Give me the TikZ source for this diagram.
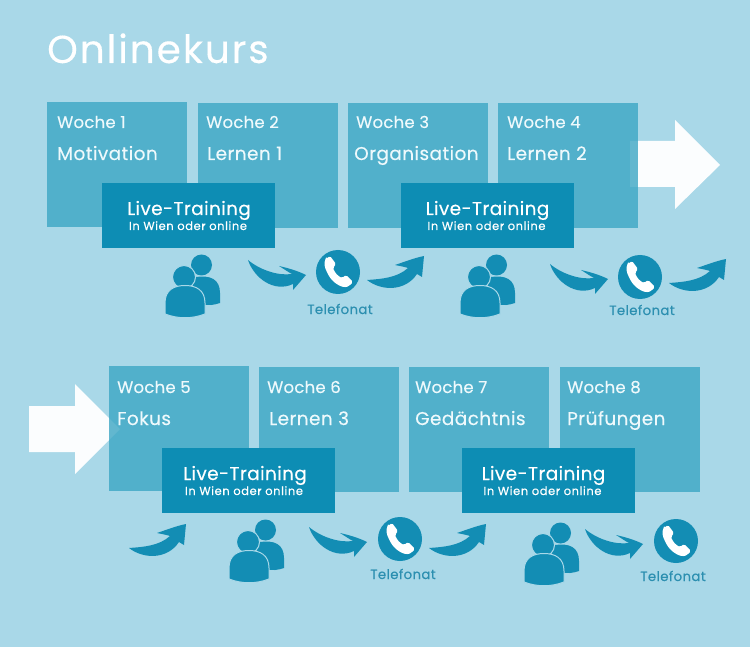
\documentclass[tikz,border=0pt]{standalone}
\usepackage{fontspec}
\setmainfont{Poppins}
\definecolor{bgc}{RGB}{169,216,232}
\definecolor{boxc}{RGB}{60,166,196}
\definecolor{livec}{RGB}{13,141,180}
\definecolor{iconc}{RGB}{19,141,180}
\definecolor{telc}{RGB}{44,143,176}
\definecolor{txtc}{RGB}{238,249,252}
\tikzset{
  week/.style={fill=boxc,fill opacity=.8,draw=none,minimum width=140pt,minimum height=125pt,anchor=north west,inner sep=0pt},
  live/.style={fill=livec,minimum width=173pt,minimum height=65pt,anchor=north west,inner sep=0pt},
  wk/.style={text=txtc,font=\fontsize{16.5}{16}\selectfont\addfontfeatures{FakeBold=0.25,LetterSpace=1.5},anchor=base west,inner sep=0pt},
  tp/.style={text=txtc,font=\fontsize{18.5}{18}\selectfont\addfontfeatures{FakeBold=0.25,LetterSpace=2.2},anchor=base west,inner sep=0pt},
  lt/.style={text=white,font=\fontsize{18.5}{18}\selectfont\addfontfeatures{FakeBold=0.25,LetterSpace=2},anchor=base,inner sep=0pt},
  ls/.style={text=white,font=\fontsize{11.5}{11}\selectfont\addfontfeatures{FakeBold=0.4,LetterSpace=5},anchor=base,inner sep=0pt},
  tel/.style={text=telc,font=\fontsize{13.3}{13}\selectfont\addfontfeatures{FakeBold=0.3,LetterSpace=3},anchor=base,inner sep=0pt},
  phonec/.style={circle,fill=iconc,minimum size=44pt,inner sep=0pt},
  bigarrow/.style={fill=white,fill opacity=.96,draw=none},
  swoopdown/.pic={\fill[iconc] (0,0) .. controls (6,18) and (26,33) .. (45,24) -- (45,30) -- (58,15) .. controls (50,11) and (40,8) .. (31,6) .. controls (36,9) and (40,12) .. (44,14) .. controls (30,16) and (12,10) .. (0,0) -- cycle;},
  swoopup/.pic={\fill[iconc] (0,0) .. controls (14,11) and (38,12) .. (50,-6) -- (55,-3) -- (57,-24) .. controls (47,-22) and (37,-18) .. (28,-15) .. controls (33,-14) and (38,-13) .. (41,-12) .. controls (30,-2) and (14,-1) .. (0,0) -- cycle;},
  handset/.pic={\fill[white,rounded corners=1.5pt] (-12,-13) -- (-8,-16) -- (-2,-8) -- (-5,-4) .. controls (-3,1) and (0,4) .. (4,6) -- (8,3) -- (15,10) -- (11,14) .. controls (4,17) and (-6,10) .. (-10,2) .. controls (-14,-5) and (-14,-10) .. (-12,-13) -- cycle;},
  people/.pic={
    \fill[iconc] (17.5,-12) circle (10.5);
    \fill[iconc] (12,0) .. controls (26,-2) and (36,2) .. (36,16) -- (36,26) .. controls (30,28) and (24,29) .. (18,27) -- (8,10) -- cycle;
    \fill[iconc,draw=bgc,line width=1pt] (0,0) circle (11.5);
    \fill[iconc,draw=bgc,line width=1pt] (-19,37) -- (-19,26) .. controls (-19,13) and (-10,8.5) .. (1,8.5) .. controls (12,8.5) and (21,13) .. (21,26) -- (21,37) .. controls (8,42) and (-6,42) .. (-19,37) -- cycle;
  }
}
\begin{document}
\begin{tikzpicture}[x=1pt,y=-1pt]
\useasboundingbox (0,0) rectangle (750,647);
\fill[bgc] (0,0) rectangle (750,647);
\node[text=white,font=\fontsize{39}{39}\selectfont\addfontfeatures{FakeBold=0.3,LetterSpace=5},anchor=base west,inner sep=0pt] (title) at (47,63) {Onlinekurs};
% large arrows
\fill[bigarrow] (630,141) -- (675,141) -- (675,120) -- (720,165) -- (675,209) -- (675,187) -- (630,187) -- cycle;
\fill[bigarrow] (29,406) -- (75,406) -- (75,384) -- (120,429) -- (75,474) -- (75,452) -- (29,452) -- cycle;
% week boxes
\node[week] (w1) at (47,102) {};
\node[week] (w2) at (198,103) {};
\node[week] (w3) at (348,103) {};
\node[week] (w4) at (498,103) {};
\node[week] (w5) at (109,366) {};
\node[week] (w6) at (259,367) {};
\node[week] (w7) at (409,367) {};
\node[week] (w8) at (560,367) {};
% week text
\node[wk] (a1) at (57,128) {Woche 1};   \node[tp] (b1) at (57,160) {Motivation};
\node[wk] (a2) at (206,128) {Woche 2};  \node[tp] (b2) at (207,160) {Lernen 1};
\node[wk] (a3) at (356,128) {Woche 3};  \node[tp] (b3) at (354,160) {Organisation};
\node[wk] (a4) at (507,128) {Woche 4};  \node[tp] (b4) at (507,160) {Lernen 2};
\node[wk] (a5) at (117,393) {Woche 5};  \node[tp] (b5) at (117,425) {Fokus};
\node[wk] (a6) at (267,393) {Woche 6};  \node[tp] (b6) at (269,425) {Lernen 3};
\node[wk] (a7) at (415,393) {Woche 7};  \node[tp] (b7) at (415,425) {Gedächtnis};
\node[wk] (a8) at (567,393) {Woche 8};  \node[tp] (b8) at (567,425) {Prüfungen};
% live boxes
\node[live] (l1) at (102,183) {};
\node[live] (l2) at (401,183) {};
\node[live] (l3) at (162,448) {};
\node[live] (l4) at (462,448) {};
\foreach \n/\cx/\cy in {1/189/183,2/487.5/183,3/245/448,4/543.5/448}{
  \node[lt] (lt\n) at (\cx,\cy+32) {Live-Training};
  \node[ls] (ls\n) at (\cx-1,\cy+47) {In Wien oder online};
}
% people
\pic at (184,277) {people};
\pic at (479,277) {people};
\pic at (248,542) {people};
\pic at (543,545) {people};
% phones
\node[phonec] (p1) at (338,272) {}; \pic at (p1) {handset};
\node[phonec] (p2) at (640,277) {}; \pic at (p2) {handset};
\node[phonec] (p3) at (400,539) {}; \pic at (p3) {handset};
\node[phonec] (p4) at (676,541) {}; \pic at (p4) {handset};
\node[tel] (t1) at (340,314) {Telefonat};
\node[tel] (t2) at (642,315) {Telefonat};
\node[tel] (t3) at (403,579) {Telefonat};
\node[tel] (t4) at (673,581) {Telefonat};
% swooshes
\pic at (248,260) {swoopdown};
\pic at (550,264) {swoopdown};
\pic at (309,527) {swoopdown};
\pic at (585,529) {swoopdown};
\pic at (367,280) {swoopup};
\pic at (669,283) {swoopup};
\pic at (429,548) {swoopup};
\pic at (129,548) {swoopup};
\end{tikzpicture}
\end{document}
